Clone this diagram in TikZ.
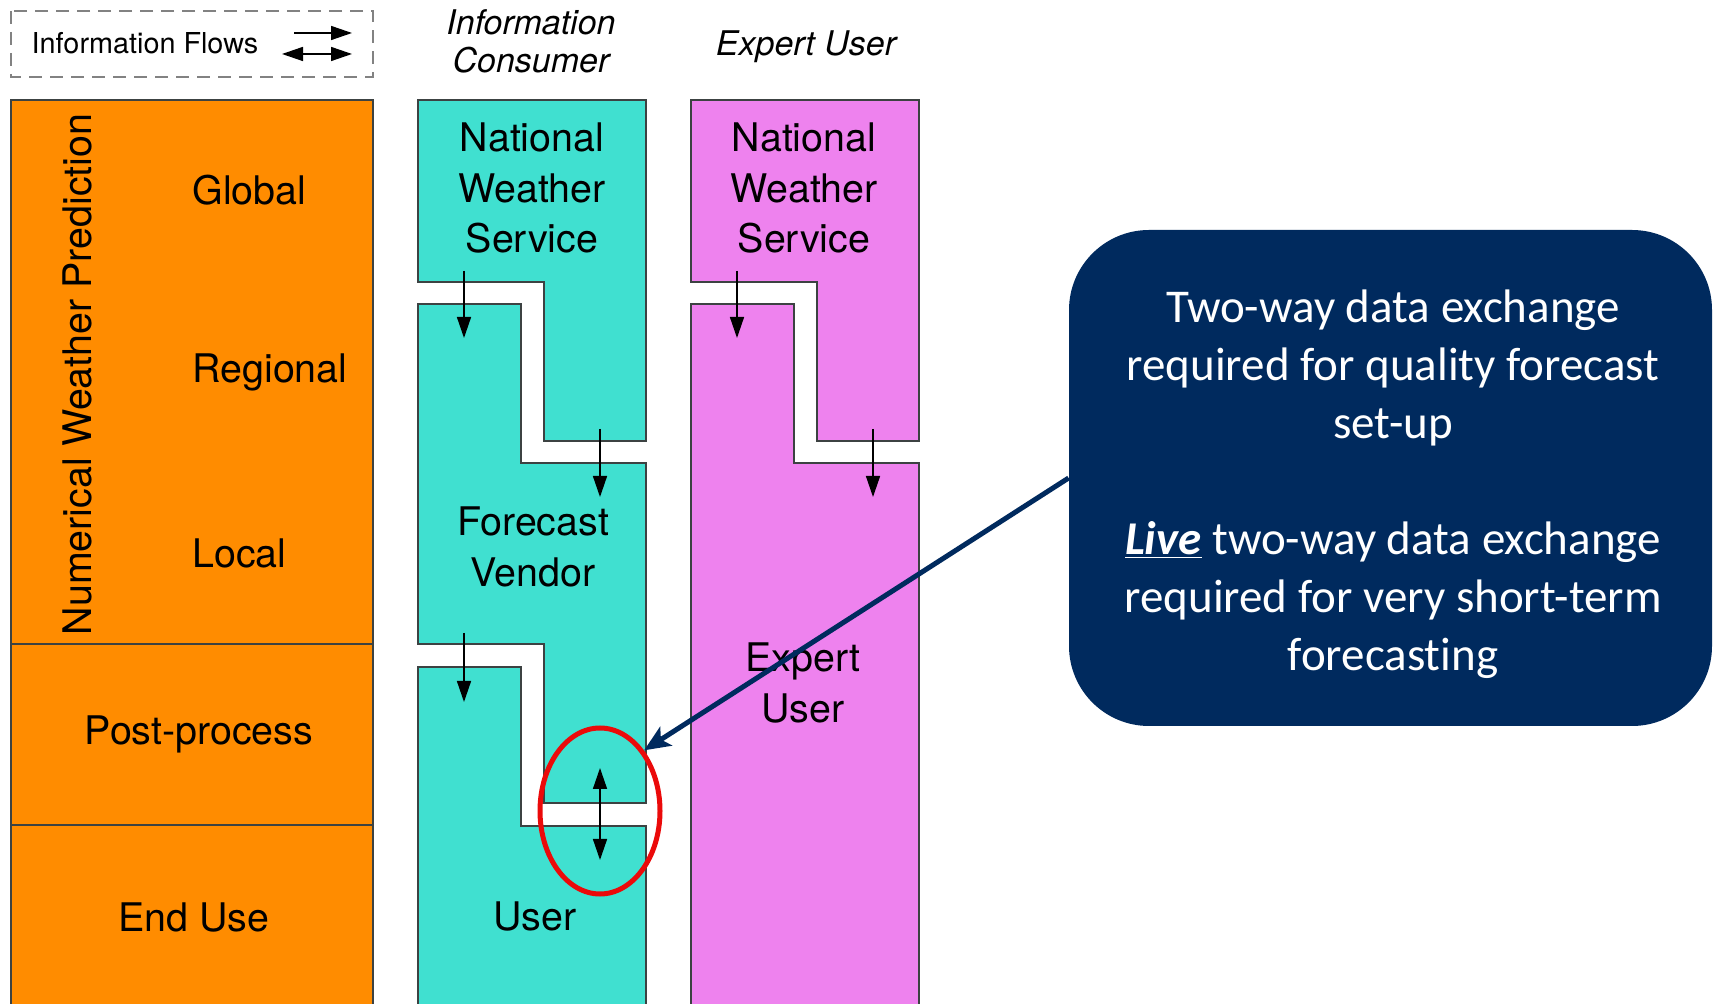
\documentclass[tikz,border=0pt]{standalone}
\usepackage{fontspec}
\setmainfont{TeX Gyre Heros}
\newfontfamily\calfont[Ligatures=NoCommon]{Carlito}
\usetikzlibrary{arrows.meta,shapes.geometric}
\definecolor{orangefill}{RGB}{255,140,0}
\definecolor{tealfill}{RGB}{64,224,208}
\definecolor{magfill}{RGB}{238,130,238}
\definecolor{navy}{RGB}{0,42,94}
\definecolor{bord}{RGB}{60,66,66}
\definecolor{ringred}{RGB}{235,10,10}
\definecolor{dashgray}{RGB}{130,130,130}
\begin{document}
\begin{tikzpicture}[x=0.5pt,y=-0.5pt,
  colshape/.style={draw=bord, line width=0.65pt},
  big/.style={font=\fontsize{19.7pt}{25.4pt}\selectfont, align=center, inner sep=0pt},
  hdr/.style={font=\fontsize{17pt}{19pt}\selectfont\itshape, align=center, inner sep=0pt},
  legtxt/.style={font=\fontsize{14.4pt}{17pt}\selectfont, inner sep=0pt},
  flow/.style={-{Triangle[width=7pt,length=10.5pt]}, line width=0.75pt},
  flowboth/.style={{Triangle[width=7pt,length=10.5pt]}-{Triangle[width=7pt,length=10.5pt]}, line width=0.75pt},
  legendbox/.style={draw=dashgray, line width=1pt, dash pattern=on 6.5pt off 4pt},
  ring/.style={draw=ringred, line width=2.5pt, ellipse, inner sep=0pt, minimum width=60pt, minimum height=83pt},
  callbox/.style={fill=navy, rounded corners=40pt, minimum width=321.5pt, minimum height=248pt, inner sep=0pt},
  calltxt/.style={inner sep=0pt, text=white, align=center, font=\calfont\fontsize{23.5pt}{29pt}\selectfont},
  callarrow/.style={draw=navy, line width=2.5pt, -{Stealth[length=13pt,width=11pt,inset=3pt]}}
]
\useasboundingbox (0,0) rectangle (1714,1004);
\fill[white] (0,0) rectangle (1714,1004);
\clip (0,0) rectangle (1714,1004);

% legend
\draw[legendbox] (11,11) rectangle (373,77);
\node[legtxt, anchor=base] (legend) at (145,54) {Information Flows};
\coordinate (l1s) at (294,33);
\coordinate (l1e) at (352,33);
\coordinate (l2s) at (282,54);
\coordinate (l2e) at (352,54);
\draw[flow] (l1s) -- (l1e);
\draw[flowboth] (l2s) -- (l2e);

% headers
\node[hdr] (hic) at (531,41) {Information\\Consumer};
\node[hdr, anchor=base] (heu) at (806,56) {Expert User};

% orange column
\draw[colshape, fill=orangefill] (11,100) rectangle (373,644);
\draw[colshape, fill=orangefill] (11,644) rectangle (373,825);
\draw[colshape, fill=orangefill] (11,825) rectangle (373,1012);
\node[big, rotate=90, anchor=base] (nwp) at (91,374.5) {Numerical Weather Prediction};
\node[big, anchor=base west] (glob) at (192,205) {Global};
\node[big, anchor=base west] (reg) at (192,383) {Regional};
\node[big, anchor=base west] (loc) at (192,568) {Local};
\node[big, anchor=base] (post) at (199,745) {Post-process};
\node[big, anchor=base] (enduse) at (194,931) {End Use};

% teal column
\draw[colshape, fill=tealfill] (418,100) -- (646,100) -- (646,441) -- (544,441) -- (544,282) -- (418,282) -- cycle;
\draw[colshape, fill=tealfill] (418,304) -- (521,304) -- (521,463) -- (646,463) -- (646,803) -- (544,803) -- (544,644) -- (418,644) -- cycle;
\draw[colshape, fill=tealfill] (418,667) -- (521,667) -- (521,826) -- (646,826) -- (646,1012) -- (418,1012) -- cycle;
\node[big] (nwsa) at (532,188) {National\\Weather\\Service};
\node[big] (fv) at (533,547) {Forecast\\Vendor};
\node[big] (usr) at (535,916) {User};

% magenta column
\draw[colshape, fill=magfill] (691,100) -- (919,100) -- (919,441) -- (817,441) -- (817,282) -- (691,282) -- cycle;
\draw[colshape, fill=magfill] (691,304) -- (794,304) -- (794,463) -- (919,463) -- (919,1012) -- (691,1012) -- cycle;
\node[big] (nwsb) at (804,188) {National\\Weather\\Service};
\node[big] (eu) at (803,683) {Expert\\User};

% flow arrows
\coordinate (t1s) at (464,271); \coordinate (t1e) at (464,338);
\coordinate (t2s) at (600,429); \coordinate (t2e) at (600,497);
\coordinate (t3s) at (464,633); \coordinate (t3e) at (464,702);
\coordinate (m1s) at (737,271); \coordinate (m1e) at (737,338);
\coordinate (m2s) at (873,429); \coordinate (m2e) at (873,497);
\coordinate (dbt) at (600,768); \coordinate (dbb) at (600,860);
\draw[flow] (t1s) -- (t1e);
\draw[flow] (t2s) -- (t2e);
\draw[flow] (t3s) -- (t3e);
\draw[flow] (m1s) -- (m1e);
\draw[flow] (m2s) -- (m2e);
\draw[flowboth] (dbt) -- (dbb);

% highlight ring
\node[ring] (ell) at (600,811) {};

% callout
\node[callbox] (call) at (1390.5,478) {};
\node[calltxt] (calltext) at (1393,484) {Two-way data exchange\\required for quality forecast\\set-up\\[29pt]\underline{\textbf{\textit{Live}}} two-way data exchange\\required for very short-term\\forecasting};
\draw[callarrow] (call.west) -- (ell.54);
\end{tikzpicture}
\end{document}
